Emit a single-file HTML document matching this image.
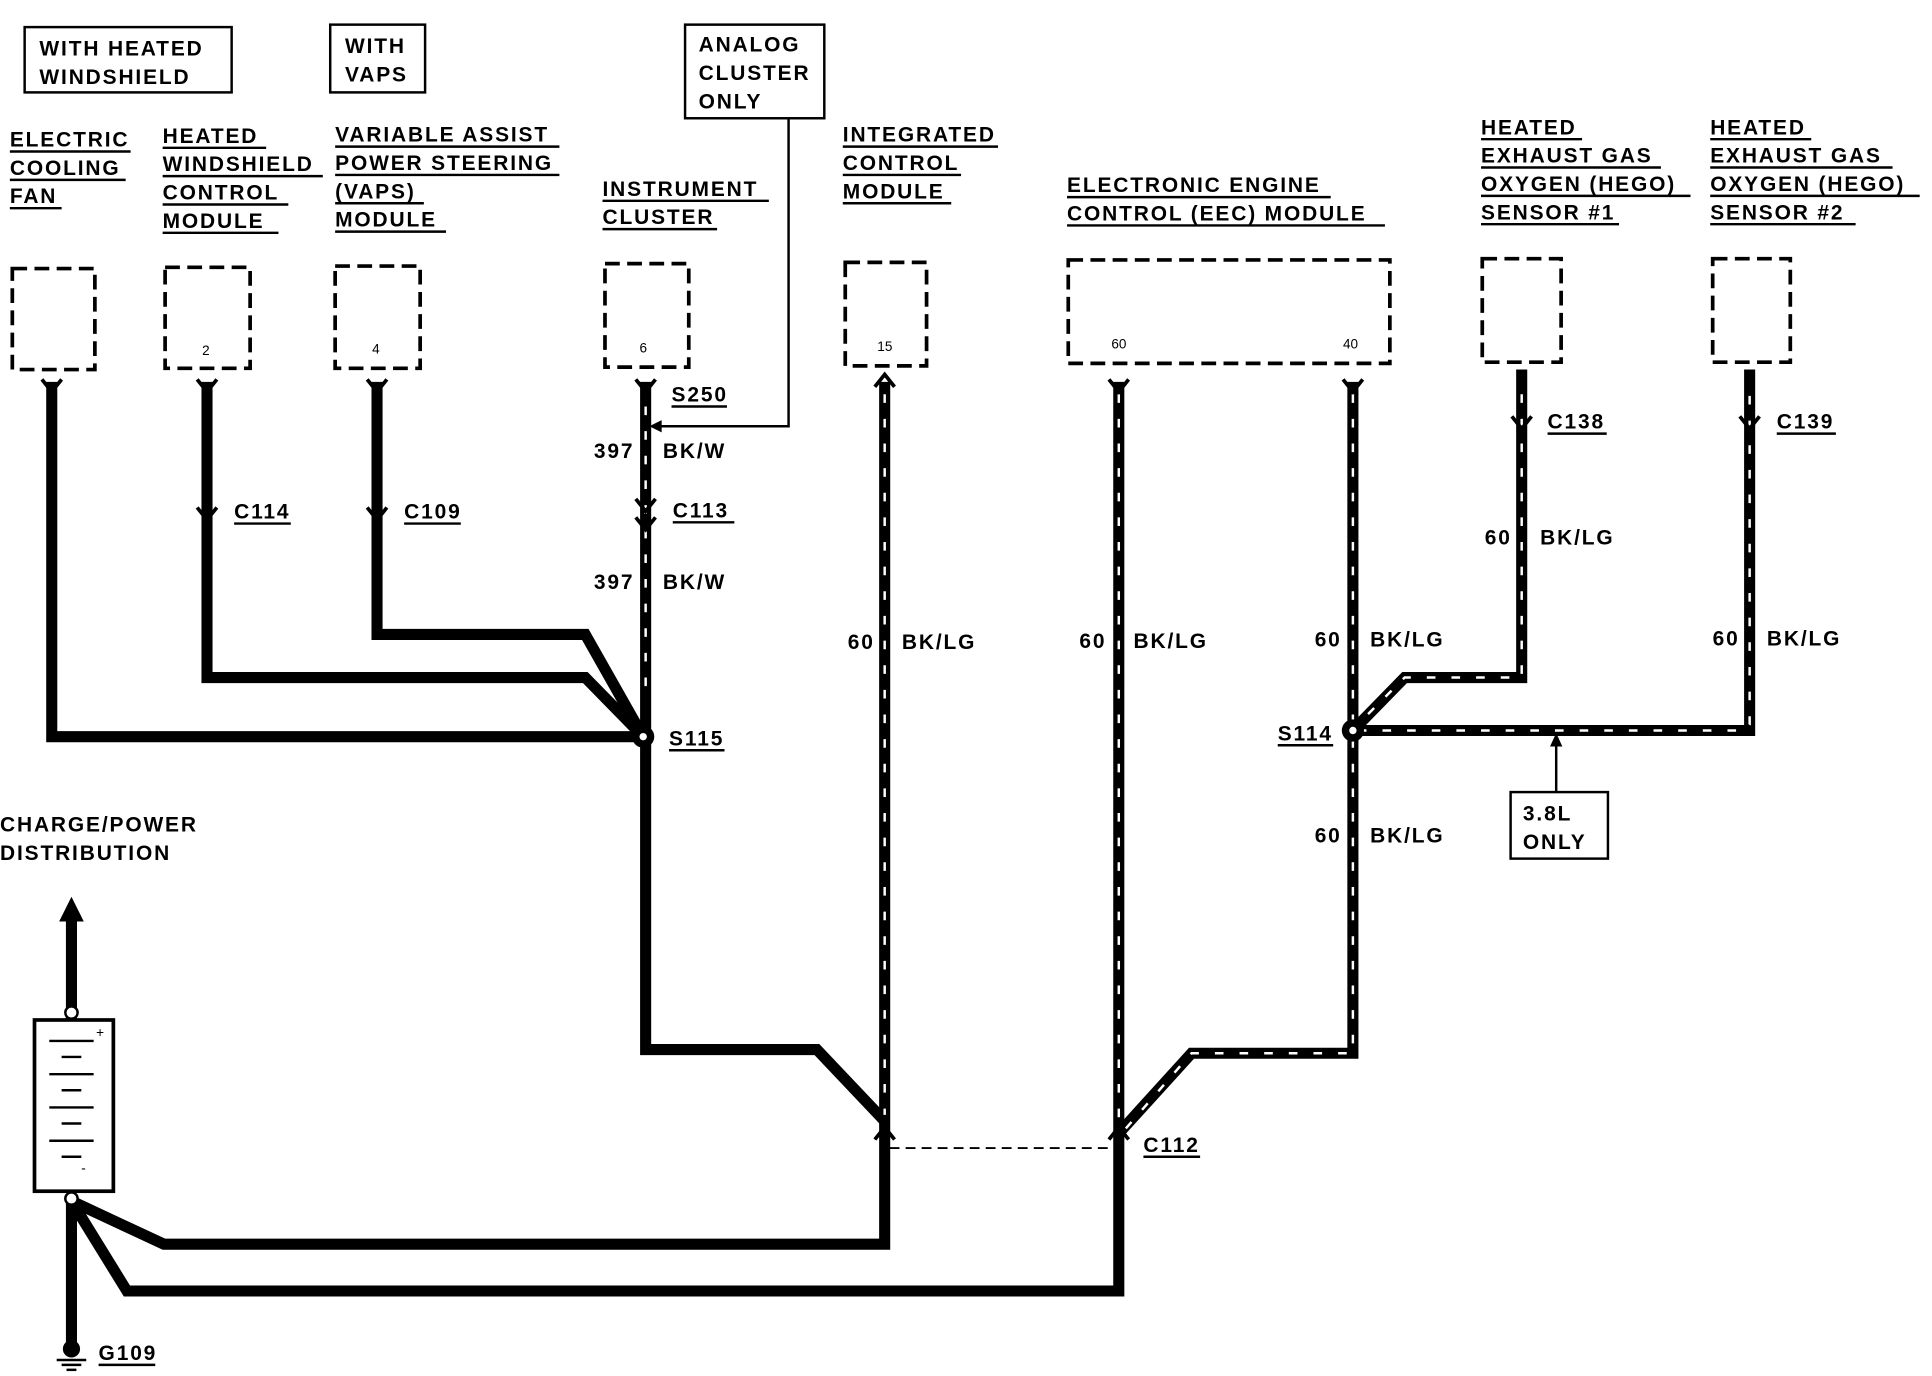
<!DOCTYPE html>
<html><head><style>body{margin:0;background:#fff}svg{display:block}
text{font-family:"Liberation Sans",Arial,sans-serif;font-size:17px;font-weight:bold;fill:#000;letter-spacing:1.5px}
.s{font-size:11px;font-weight:normal;letter-spacing:0}</style></head><body>
<svg width="1932" height="1376" viewBox="0 0 1568 1117" preserveAspectRatio="none" xmlns="http://www.w3.org/2000/svg">
<rect width="1568" height="1117" fill="#fff"/>
<g fill="none" stroke="#000" stroke-width="2">
<rect x="20" y="22" width="168" height="53"/>
<rect x="268" y="20" width="77" height="55"/>
<rect x="556" y="20" width="113" height="76"/>
<polyline points="640,96 640,346 532,346"/>
<rect x="1226" y="643" width="79" height="54"/>
<line x1="1263" y1="643" x2="1263" y2="602"/>
</g>
<polygon points="527,346 537,341 537,351" fill="#000"/>
<polygon points="1263,595 1258,606 1268,606" fill="#000"/>
<g font-size="17">
<text x="32" y="45">WITH HEATED</text><text x="32" y="68">WINDSHIELD</text>
<text x="280" y="43">WITH</text><text x="280" y="66">VAPS</text>
<text x="567" y="42">ANALOG</text><text x="567" y="65">CLUSTER</text><text x="567" y="88">ONLY</text>
<text x="8" y="119">ELECTRIC</text><text x="8" y="142">COOLING</text><text x="8" y="165">FAN</text>
<text x="132" y="116">HEATED</text><text x="132" y="139">WINDSHIELD</text><text x="132" y="162">CONTROL</text><text x="132" y="185">MODULE</text>
<text x="272" y="115">VARIABLE ASSIST</text><text x="272" y="138">POWER STEERING</text><text x="272" y="161">(VAPS)</text><text x="272" y="184">MODULE</text>
<text x="489" y="159">INSTRUMENT</text><text x="489" y="182">CLUSTER</text>
<text x="684" y="115">INTEGRATED</text><text x="684" y="138">CONTROL</text><text x="684" y="161">MODULE</text>
<text x="866" y="156">ELECTRONIC ENGINE</text><text x="866" y="179">CONTROL (EEC) MODULE</text>
<text x="1202" y="109">HEATED</text><text x="1202" y="132">EXHAUST GAS</text><text x="1202" y="155">OXYGEN (HEGO)</text><text x="1202" y="178">SENSOR #1</text>
<text x="1388" y="109">HEATED</text><text x="1388" y="132">EXHAUST GAS</text><text x="1388" y="155">OXYGEN (HEGO)</text><text x="1388" y="178">SENSOR #2</text>
<text x="0" y="675">CHARGE/POWER</text><text x="0" y="698">DISTRIBUTION</text>
<text x="1236" y="666">3.8L</text><text x="1236" y="689">ONLY</text>
<text x="545" y="326">S250</text><text x="482" y="372">397</text><text x="538" y="372">BK/W</text>
<text x="546" y="420">C113</text><text x="482" y="478">397</text><text x="538" y="478">BK/W</text>
<text x="190" y="421">C114</text><text x="328" y="421">C109</text>
<text x="543" y="605">S115</text>
<text x="688" y="527">60</text><text x="732" y="527">BK/LG</text>
<text x="876" y="526">60</text><text x="920" y="526">BK/LG</text>
<text x="1067" y="525">60</text><text x="1112" y="525">BK/LG</text>
<text x="1205" y="442">60</text><text x="1250" y="442">BK/LG</text>
<text x="1390" y="524">60</text><text x="1434" y="524">BK/LG</text>
<text x="1256" y="348">C138</text><text x="1442" y="348">C139</text>
<text x="1037" y="601">S114</text>
<text x="1067" y="684">60</text><text x="1112" y="684">BK/LG</text>
<text x="928" y="935">C112</text><text x="80" y="1104">G109</text>
</g>
<g stroke="#000" stroke-width="2">
<line x1="8" y1="123" x2="106" y2="123"/><line x1="8" y1="146" x2="102" y2="146"/><line x1="8" y1="169" x2="50" y2="169"/>
<line x1="132" y1="120" x2="216" y2="120"/><line x1="132" y1="143" x2="262" y2="143"/><line x1="132" y1="166" x2="234" y2="166"/><line x1="132" y1="189" x2="226" y2="189"/>
<line x1="272" y1="119" x2="454" y2="119"/><line x1="272" y1="142" x2="454" y2="142"/><line x1="272" y1="165" x2="344" y2="165"/><line x1="272" y1="188" x2="362" y2="188"/>
<line x1="489" y1="163" x2="624" y2="163"/><line x1="489" y1="186" x2="582" y2="186"/>
<line x1="684" y1="119" x2="810" y2="119"/><line x1="684" y1="142" x2="780" y2="142"/><line x1="684" y1="165" x2="772" y2="165"/>
<line x1="866" y1="160" x2="1080" y2="160"/><line x1="866" y1="183" x2="1124" y2="183"/>
<line x1="1202" y1="113" x2="1284" y2="113"/><line x1="1202" y1="136" x2="1348" y2="136"/><line x1="1202" y1="159" x2="1372" y2="159"/><line x1="1202" y1="182" x2="1314" y2="182"/>
<line x1="1388" y1="113" x2="1470" y2="113"/><line x1="1388" y1="136" x2="1536" y2="136"/><line x1="1388" y1="159" x2="1558" y2="159"/><line x1="1388" y1="182" x2="1506" y2="182"/>
<line x1="545" y1="330" x2="590" y2="330"/><line x1="546" y1="424" x2="596" y2="424"/>
<line x1="190" y1="425" x2="236" y2="425"/><line x1="328" y1="425" x2="374" y2="425"/>
<line x1="543" y1="609" x2="588" y2="609"/><line x1="1256" y1="352" x2="1304" y2="352"/><line x1="1442" y1="352" x2="1490" y2="352"/>
<line x1="1037" y1="605" x2="1082" y2="605"/><line x1="928" y1="939" x2="974" y2="939"/><line x1="80" y1="1108" x2="126" y2="1108"/>
</g>
<g fill="none" stroke="#000" stroke-width="3" stroke-dasharray="12,6">
<rect x="10" y="218" width="67" height="82"/><rect x="134" y="217" width="69" height="82"/>
<rect x="272" y="216" width="69" height="83"/><rect x="491" y="214" width="68" height="84"/>
<rect x="686" y="213" width="66" height="84"/><rect x="867" y="211" width="261" height="84"/>
<rect x="1203" y="210" width="64" height="84"/><rect x="1390" y="210" width="63" height="84"/>
</g>
<g class="s"><text class="s" x="164" y="288">2</text><text class="s" x="302" y="287">4</text><text class="s" x="519" y="286">6</text><text class="s" x="712" y="285">15</text><text class="s" x="902" y="283">60</text><text class="s" x="1090" y="283">40</text></g>
<g fill="none" stroke="#000" stroke-width="9" stroke-linejoin="miter">
<polyline points="42,310 42,598 522,598"/>
<polyline points="168,310 168,550 475,550 522,598"/>
<polyline points="306,310 306,515 475,515 522,598"/>
<polyline points="524,310 524,852 663,852 718,910"/>
<polyline points="718,310 718,1010 133,1010 58,975"/>
<polyline points="908,310 908,1048 103,1048 58,975"/>
<polyline points="1098,310 1098,855 967,855 908,920"/>
<polyline points="1098,593 1420,593 1420,300"/>
<polyline points="1235,300 1235,550 1140,550 1098,593"/>
<polyline points="58,830 58,745"/>
<polyline points="58,975 58,1090"/>
</g>
<g fill="none" stroke="#fff" stroke-width="2" stroke-dasharray="7,13">
<polyline points="718,320 718,905"/><polyline points="908,320 908,910"/>
<polyline points="1098,320 1098,855 967,855 912,918"/>
<polyline points="1102,593 1416,593 1420,588 1420,320"/>
<polyline points="1235,320 1235,550 1140,550 1100,590"/>
<line x1="524" y1="330" x2="524" y2="560"/>
</g>
<polygon points="58,728 48,748 68,748" fill="#000"/>
<line x1="722" y1="932" x2="904" y2="932" stroke="#000" stroke-width="1.5" stroke-dasharray="8,5"/>
<g fill="none" stroke="#000" stroke-width="3">
<path d="M34,308 L42,318 L50,308"/><path d="M160,308 L168,318 L176,308"/><path d="M298,308 L306,318 L314,308"/>
<path d="M516,308 L524,318 L532,308"/><path d="M900,308 L908,318 L916,308"/><path d="M1090,308 L1098,318 L1106,308"/>
<path d="M710,314 L718,304 L726,314"/>
<path d="M160,412 L168,422 L176,412"/><path d="M298,412 L306,422 L314,412"/>
<path d="M516,405 L524,415 L532,405"/><path d="M516,420 L524,430 L532,420"/>
<path d="M1227,338 L1235,348 L1243,338"/><path d="M1412,338 L1420,348 L1428,338"/>
<path d="M710,925 L718,915 L726,925"/><path d="M900,925 L908,915 L916,925"/>
</g>
<circle cx="522" cy="598" r="9" fill="#000"/><circle cx="522" cy="598" r="3" fill="#fff"/>
<circle cx="1098" cy="593" r="9" fill="#000"/><circle cx="1098" cy="593" r="3" fill="#fff"/>
<rect x="28" y="828" width="64" height="139" fill="#fff" stroke="#000" stroke-width="3"/>
<circle cx="58" cy="822" r="5" fill="#fff" stroke="#000" stroke-width="2"/>
<circle cx="58" cy="973" r="5" fill="#fff" stroke="#000" stroke-width="2"/>
<g stroke="#000" stroke-width="2">
<line x1="40" y1="845" x2="76" y2="845"/><line x1="50" y1="858" x2="66" y2="858"/>
<line x1="40" y1="872" x2="76" y2="872"/><line x1="50" y1="885" x2="66" y2="885"/>
<line x1="40" y1="899" x2="76" y2="899"/><line x1="50" y1="912" x2="66" y2="912"/>
<line x1="40" y1="926" x2="76" y2="926"/><line x1="50" y1="939" x2="66" y2="939"/>
<line x1="46" y1="1104" x2="70" y2="1104"/><line x1="50" y1="1108" x2="66" y2="1108"/><line x1="54" y1="1112" x2="62" y2="1112"/>
</g>
<text class="s" x="78" y="842">+</text><text class="s" x="66" y="952">-</text>
<circle cx="58" cy="1095" r="7" fill="#000"/>
</svg>
</body></html>
